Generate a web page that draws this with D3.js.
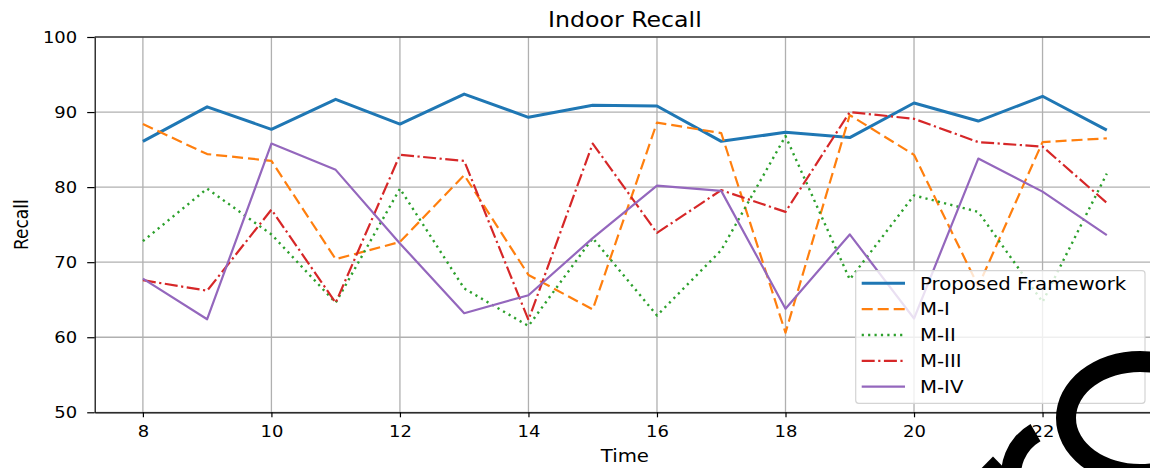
<!DOCTYPE html>
<html>
<head>
<meta charset="utf-8">
<script src="https://cdn.jsdelivr.net/npm/d3@7"></script>
<style>
  body { margin: 0; background: #fff; }
  text { font-family: "DejaVu Sans", sans-serif; fill: #000; }
</style>
</head>
<body>
<div id="chart"></div>
<script>
// Recall values, one array per model
var time = [8, 9, 10, 11, 12, 13, 14, 15, 16, 17, 18, 19, 20, 21, 22, 23];
var proposed = [86.1, 90.7, 87.7, 91.7, 88.4, 92.4, 89.3, 90.9, 90.8, 86.1, 87.3, 86.6, 91.2, 88.8, 92.1, 87.6];
var m1 = [88.4, 84.4, 83.5, 70.4, 72.7, 81.6, 68.3, 63.7, 88.6, 87.2, 60.6, 89.6, 84.3, 66.8, 86.0, 86.5];
var m2 = [72.8, 79.8, 73.7, 64.6, 79.8, 66.5, 61.5, 73.2, 62.9, 71.6, 86.8, 67.7, 78.9, 76.7, 64.7, 81.8];
var m3 = [67.6, 66.2, 77.0, 64.6, 84.3, 83.5, 62.3, 85.8, 73.9, 79.6, 76.7, 90.0, 89.1, 86.0, 85.4, 77.9];
var m4 = [67.8, 62.4, 85.8, 82.3, 72.5, 63.2, 65.6, 73.2, 80.2, 79.5, 63.8, 73.7, 62.5, 83.8, 79.4, 73.6];
var seriesNames = ['Proposed Framework', 'M-I', 'M-II', 'M-III', 'M-IV'];
var xTicks = [8, 10, 12, 14, 16, 18, 20, 22];
var yTicks = [50, 60, 70, 80, 90, 100];

var svgWidth = 1150;
var svgHeight = 468;
// the picture is stretched sideways, so text is too
var stretch = 1.16;

var styles = [
  { color: '#1f77b4', width: 3, dash: null },
  { color: '#ff7f0e', width: 2.2, dash: '11,5' },
  { color: '#2ca02c', width: 2.4, dash: '2.2,4.2' },
  { color: '#d62728', width: 2.2, dash: '13,3.5,2.2,3.5' },
  { color: '#9467bd', width: 2.2, dash: null }
];

var svg = d3.select('#chart')
  .append('svg')
  .attr('width', svgWidth)
  .attr('height', svgHeight);

var plotLeft = 94.7, plotRight = 1155, plotTop = 37, plotBottom = 412.3;

var xScale = d3.scaleLinear().domain([7.25, 23.75]).range([plotLeft, plotRight]);
var yScale = d3.scaleLinear().domain([50, 100]).range([plotBottom, plotTop]);

svg.append('defs').append('clipPath').attr('id', 'plot')
  .append('rect')
  .attr('x', plotLeft).attr('y', plotTop)
  .attr('width', plotRight - plotLeft).attr('height', plotBottom - plotTop);

// grid
svg.append('g').selectAll('line')
  .data(xTicks).enter().append('line')
  .attr('x1', d => xScale(d)).attr('x2', d => xScale(d))
  .attr('y1', plotTop).attr('y2', plotBottom)
  .attr('stroke', '#b0b0b0').attr('stroke-width', 1.3);
svg.append('g').selectAll('line')
  .data(yTicks).enter().append('line')
  .attr('x1', plotLeft).attr('x2', plotRight)
  .attr('y1', d => yScale(d)).attr('y2', d => yScale(d))
  .attr('stroke', '#b0b0b0').attr('stroke-width', 1.3);

// series lines
var allSeries = [proposed, m1, m2, m3, m4];
var line = d3.line()
  .x((d, i) => xScale(time[i]))
  .y(d => yScale(d));

var lines = svg.append('g').attr('clip-path', 'url(#plot)');
allSeries.forEach(function (values, k) {
  lines.append('path')
    .datum(values)
    .attr('fill', 'none')
    .attr('stroke', styles[k].color)
    .attr('stroke-width', styles[k].width)
    .attr('stroke-dasharray', styles[k].dash)
    .attr('stroke-linejoin', 'round')
    .attr('d', line);
});

// axes
var xAxis = svg.append('g')
  .attr('transform', `translate(0, ${plotBottom})`)
  .call(d3.axisBottom(xScale).tickValues(xTicks).tickSize(5).tickSizeOuter(0));
xAxis.selectAll('text')
  .attr('y', 25).attr('dy', null)
  .attr('transform', `scale(${stretch},1)`)
  .style('font-size', '15.5px');

var yAxis = svg.append('g')
  .attr('transform', `translate(${plotLeft}, 0)`)
  .call(d3.axisLeft(yScale).tickValues(yTicks).tickSize(7.5).tickSizeOuter(0));
yAxis.selectAll('text')
  .attr('x', -17.5 / stretch).attr('dy', '0.36em')
  .attr('transform', `scale(${stretch},1)`)
  .style('font-size', '15.5px');

[xAxis, yAxis].forEach(function (a) {
  a.select('.domain').attr('stroke', '#000').attr('stroke-width', 1.2);
  a.selectAll('.tick line').attr('stroke', '#000').attr('stroke-width', 1.2);
  a.selectAll('text').attr('fill', '#000').attr('font-family', '"DejaVu Sans", sans-serif');
});

svg.append('line')
  .attr('x1', plotLeft).attr('x2', plotRight)
  .attr('y1', plotTop).attr('y2', plotTop)
  .attr('stroke', '#000').attr('stroke-width', 1.2);

// labels
function stretchedText(x, y, str, size, anchor) {
  return svg.append('text')
    .attr('transform', `translate(${x},${y}) scale(${stretch},1)`)
    .attr('text-anchor', anchor || 'middle')
    .style('font-size', size + 'px')
    .text(str);
}
stretchedText((plotLeft + plotRight) / 2, 26.5, 'Indoor Recall', 20.4);
stretchedText((plotLeft + plotRight) / 2, 461.5, 'Time', 17);
svg.append('text')
  .attr('transform', `translate(28, ${(plotTop + plotBottom) / 2}) rotate(-90) scale(1,${stretch})`)
  .attr('text-anchor', 'middle')
  .style('font-size', '17px')
  .text('Recall');

// legend
var legend = svg.append('g');
legend.append('rect')
  .attr('x', 855.7).attr('y', 270.7)
  .attr('width', 289.3).attr('height', 132.6)
  .attr('rx', 3)
  .attr('fill', '#fff').attr('fill-opacity', 0.8)
  .attr('stroke', '#d4d4d4').attr('stroke-width', 1.2);
seriesNames.forEach(function (name, k) {
  var ry = 283.3 + k * 25.85;
  legend.append('line')
    .attr('x1', 861.7).attr('x2', 905)
    .attr('y1', ry).attr('y2', ry)
    .attr('stroke', styles[k].color)
    .attr('stroke-width', styles[k].width)
    .attr('stroke-dasharray', styles[k].dash);
  legend.append('text')
    .attr('transform', `translate(920,${ry + 6.2}) scale(${stretch},1)`)
    .style('font-size', '17px')
    .text(name);
});

// black scribble that sits over the bottom right corner of the picture
var scribble = svg.append('g').attr('fill', '#000');
function ellipsePath(cx, cy, rx, ry) {
  return `M${cx - rx},${cy} a${rx},${ry} 0 1,0 ${2 * rx},0 a${rx},${ry} 0 1,0 ${-2 * rx},0 Z`;
}
scribble.append('path')
  .attr('fill-rule', 'evenodd')
  .attr('d', ellipsePath(1140, 418, 84, 67) + ' ' + ellipsePath(1140, 418, 64, 46));
scribble.append('path')
  .attr('transform', 'translate(1060,475)')
  .attr('d', d3.arc()({ innerRadius: 39, outerRadius: 59, startAngle: -105 * Math.PI / 180, endAngle: -30 * Math.PI / 180 }));
scribble.append('polygon')
  .attr('points', '981.7,468 993,456.5 1004.3,468');
</script>
</body>
</html>
